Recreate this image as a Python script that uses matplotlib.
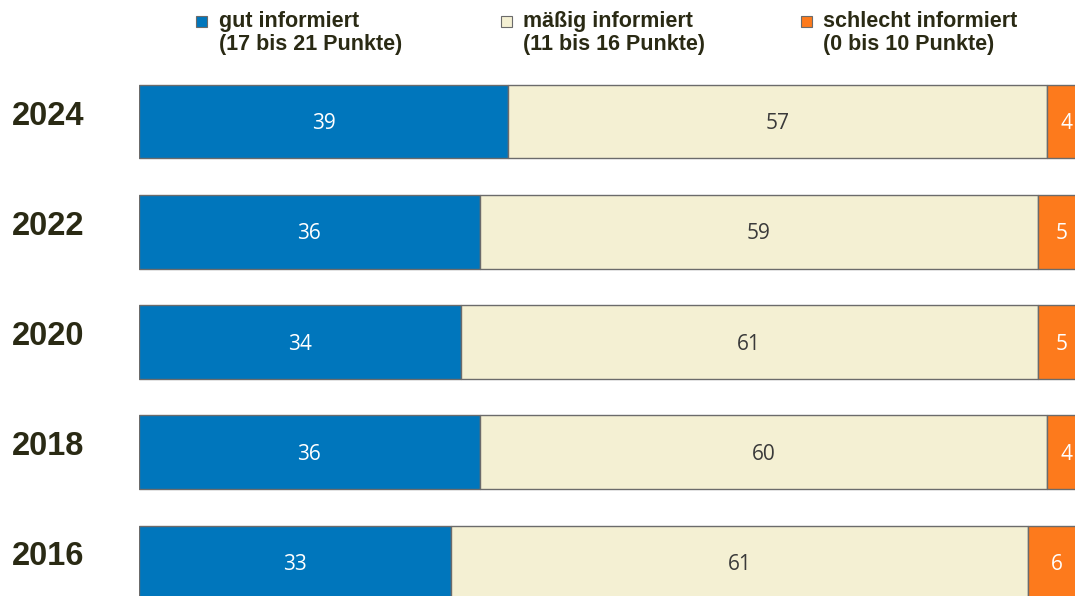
import matplotlib.pyplot as plt
from matplotlib import transforms

years = ["2024", "2022", "2020", "2018", "2016"]
gut = [39, 36, 34, 36, 33]
maessig = [57, 59, 61, 60, 61]
schlecht = [4, 5, 5, 4, 6]

series = [gut, maessig, schlecht]
colors = ["#0076bc", "#f4f0d3", "#fd7a1c"]
text_colors = ["white", "#3a3a3a", "white"]
legend_titles = ["gut informiert", "mäßig informiert", "schlecht informiert"]
legend_ranges = ["(17 bis 21 Punkte)", "(11 bis 16 Punkte)", "(0 bis 10 Punkte)"]

W, H = 1075, 596
fig = plt.figure(figsize=(W / 100, H / 100), dpi=100)
# the bars run past the right and bottom edge, as in the original
ax = fig.add_axes([139 / W, (596 - 617.6) / H, 946 / W, (617.6 - 66.4) / H])
ax.set_xlim(0, 100)
ax.set_ylim(4.5, -0.5)
ax.axis("off")

# numbers sit with their baseline a bit below the bar centre
lab_trans = transforms.offset_copy(ax.transData, fig=fig, y=-7.5, units="dots")

ypos = list(range(len(years)))
left = [0] * len(years)
for vals, col, tcol in zip(series, colors, text_colors):
    bars = ax.barh(ypos, vals, left=left, height=0.67, color=col,
                   edgecolor="#6b6b6b", linewidth=1.0)
    for b, v in zip(bars, vals):
        ax.text(b.get_x() + b.get_width() / 2, b.get_y() + b.get_height() / 2,
                str(v), ha="center", va="baseline", color=tcol,
                fontsize=15, family="Open Sans", transform=lab_trans)
    left = [l + v for l, v in zip(left, vals)]

# year labels, left aligned, baseline just below the bar centre
trans = transforms.blended_transform_factory(fig.transFigure, ax.transData)
trans = transforms.offset_copy(trans, fig=fig, y=-3, units="dots")
for y, lab in zip(ypos, years):
    ax.text(12 / W, y, lab, transform=trans, ha="left", va="baseline",
            fontsize=23.5, fontweight="bold", family="Liberation Sans",
            color="#2a2a14")

# legend drawn by hand
sq_x = [196, 501, 801]
txt_x = [219, 523, 823]
for sx, tx, col, t1, t2 in zip(sq_x, txt_x, colors, legend_titles, legend_ranges):
    fig.patches.append(plt.Rectangle((sx / W, (H - 27) / H), 11 / W, 11 / H,
                                     transform=fig.transFigure, facecolor=col,
                                     edgecolor="#6b6b6b", linewidth=0.8))
    for txt, base in [(t1, 27), (t2, 50)]:
        fig.text(tx / W, (H - base) / H, txt, ha="left", va="baseline",
                 fontsize=15.5, fontweight="bold", family="Liberation Sans",
                 color="#2a2a14")

fig.savefig("out.png", dpi=100)
